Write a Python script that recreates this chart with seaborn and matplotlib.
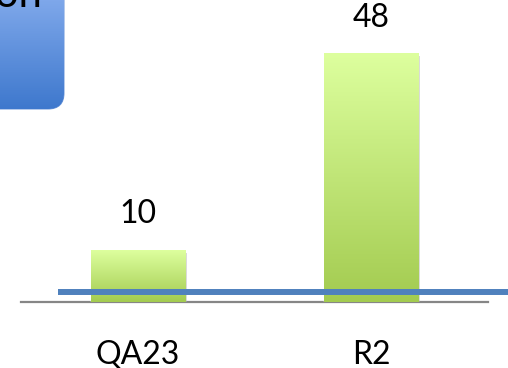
import numpy as np
import pandas as pd
import matplotlib
matplotlib.use("Agg")
import matplotlib.pyplot as plt
import matplotlib.patheffects as pe
from matplotlib.patches import FancyBboxPatch
import seaborn as sns

categories = ["QA23", "R2"]
values = [10, 48]
baseline_value = 1.9
title_text = "Comparison"

sns.set_theme(style="white")
plt.rcParams["font.family"] = ["Lato", "DejaVu Sans"]

df = pd.DataFrame({"cat": categories, "val": values})

fig = plt.figure(figsize=(5.08, 3.68), dpi=100)
ax = fig.add_axes([21 / 508, (368 - 302) / 368, (488 - 21) / 508, 302 / 368])

sns.barplot(data=df, x="cat", y="val", ax=ax, width=0.403,
            color="#a6cc55", saturation=1, zorder=2)

ax.set_xlim(-0.5, 1.5)
ax.set_ylim(0, 302 / 5.18)

top_col = np.array([221, 255, 158]) / 255
bot_col = np.array([163, 203, 80]) / 255
grad = np.linspace(0, 1, 256)[:, None]
img = top_col[None, None, :] * (1 - grad[:, :, None]) + bot_col[None, None, :] * grad[:, :, None]

for p in ax.patches:
    p.set_path_effects([pe.SimplePatchShadow(offset=(1.5, -2), shadow_rgbFace="#808080", alpha=0.35),
                        pe.Normal()])
    x, y, w, h = p.get_x(), p.get_y(), p.get_width(), p.get_height()
    im = ax.imshow(img, extent=[x, x + w, y, y + h], aspect="auto", zorder=3,
                   interpolation="bilinear")
    im.set_clip_path(p)

ax.set_xlim(-0.5, 1.5)
ax.set_ylim(0, 302 / 5.18)

for c in ax.containers:
    ax.bar_label(c, labels=[str(v) for v in values], padding=15, fontsize=23, color="black")

ax.plot([-0.343, 1.7], [baseline_value, baseline_value], color="#4f81bd", lw=4.3,
        solid_capstyle="butt", zorder=5, clip_on=False)

for s in ["left", "top", "right"]:
    ax.spines[s].set_visible(False)
ax.spines["bottom"].set_color("#868686")
ax.spines["bottom"].set_linewidth(1.6)
ax.spines["bottom"].set_zorder(1)
ax.set_xlabel("")
ax.set_ylabel("")
ax.set_yticks([])
ax.tick_params(axis="x", length=0, pad=27, labelsize=23, labelcolor="black")

# title box at top-left (partially cut off)
bax = fig.add_axes([0, 0, 1, 1], zorder=10)
bax.set_xlim(0, 508)
bax.set_ylim(368, 0)
bax.axis("off")
box = FancyBboxPatch((-40, -40), 40 + 64, 40 + 109, boxstyle="round,pad=0,rounding_size=16",
                     facecolor="none", edgecolor="#7aa0dd", lw=0.8, transform=bax.transData)
bax.add_patch(box)
bgrad = np.linspace(0, 1, 256)[:, None]
btop = np.array([150, 185, 245]) / 255
bbot = np.array([62, 120, 205]) / 255
bimg = btop[None, None, :] * (1 - bgrad[:, :, None]) + bbot[None, None, :] * bgrad[:, :, None]
bim = bax.imshow(bimg, extent=[-40, 64, 109, -40], aspect="auto", zorder=1)
bim.set_clip_path(box)
bax.text(42, 7, title_text, ha="right", va="baseline", fontsize=30, color="black", zorder=3)

fig.savefig("out.png", dpi=100)
